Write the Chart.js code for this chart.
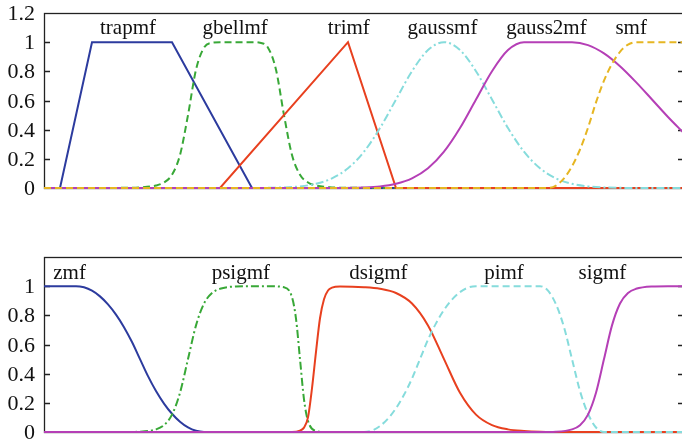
<!DOCTYPE html>
<html>
<head>
<meta charset="utf-8">
<script src="https://cdn.jsdelivr.net/npm/chart.js@4.4.0/dist/chart.umd.min.js"></script>
<style>
  html, body { margin: 0; padding: 0; background: #fff; overflow: hidden; }
  canvas { position: absolute; left: 0; }
  #topChart { top: 0; }
  #bottomChart { top: 240px; }
</style>
</head>
<body>
<canvas id="topChart" width="690" height="200"></canvas>
<canvas id="bottomChart" width="690" height="204"></canvas>
<script>
// upper panel: trapmf, gbellmf, trimf, gaussmf, gauss2mf, smf
const trapX = [0, 1, 3, 8, 13, 40];
const trapY = [0, 0, 1, 1, 0, 0];

const gbellX = [0, 5, 6, 7, 7.5, 8, 8.5, 9, 9.5, 10, 10.5, 11, 12, 13, 13.5, 14, 14.5, 15, 15.5, 16, 16.5, 17, 18, 19, 40];
const gbellY = [0, 0.001, 0.004, 0.017, 0.038, 0.091, 0.226, 0.5, 0.811, 0.962, 0.996, 1, 1, 1, 0.996, 0.962, 0.811, 0.5, 0.226, 0.091, 0.038, 0.017, 0.004, 0.001, 0];

const trimX = [0, 11, 19, 22, 40];
const trimY = [0, 0, 1, 0, 0];

const gaussX = [0, 13, 15, 16, 17, 18, 19, 20, 21, 22, 23, 24, 25, 26, 27, 28, 29, 30, 31, 32, 33, 34, 35, 37, 40];
const gaussY = [0, 0.0003, 0.004, 0.011, 0.029, 0.066, 0.135, 0.249, 0.411, 0.607, 0.801, 0.946, 1, 0.946, 0.801, 0.607, 0.411, 0.249, 0.135, 0.066, 0.029, 0.011, 0.004, 0.0003, 0];

const gauss2X = [0, 16, 18, 20, 21, 22, 23, 24, 25, 26, 27, 28, 29, 30, 33, 34, 35, 36, 37, 38, 39, 40];
const gauss2Y = [0, 0, 0.0003, 0.004, 0.011, 0.029, 0.066, 0.135, 0.249, 0.411, 0.607, 0.801, 0.946, 1, 1, 0.98, 0.923, 0.835, 0.726, 0.607, 0.487, 0.375];

const smfX = [0, 31.5, 32, 32.5, 33, 33.5, 34, 34.5, 35, 35.5, 36, 36.5, 37, 40];
const smfY = [0, 0, 0.017, 0.066, 0.149, 0.264, 0.413, 0.587, 0.736, 0.851, 0.934, 0.983, 1, 1];

// lower panel: zmf, psigmf, dsigmf, pimf, sigmf
const zmfX = [0, 2, 2.5, 3, 3.5, 4, 4.5, 5, 5.5, 6, 6.5, 7, 7.5, 8, 8.5, 9, 9.5, 10, 40];
const zmfY = [1, 1, 0.992, 0.969, 0.93, 0.875, 0.805, 0.719, 0.617, 0.5, 0.383, 0.281, 0.195, 0.125, 0.07, 0.031, 0.008, 0, 0];

const psigX = [0, 5, 6, 7, 7.5, 8, 8.5, 9, 9.5, 10, 10.5, 11, 12, 13, 14, 15, 15.5, 15.75, 16, 16.25, 16.5, 17, 17.5, 40];
const psigY = [0, 0, 0.002, 0.018, 0.047, 0.119, 0.269, 0.5, 0.731, 0.881, 0.953, 0.982, 0.998, 1, 1, 0.993, 0.924, 0.777, 0.5, 0.223, 0.076, 0.007, 0, 0];

const dsigX = [0, 15.5, 16, 16.25, 16.5, 16.75, 17, 17.25, 17.5, 17.75, 18, 18.5, 20, 21, 22, 23, 24, 25, 26, 27, 28, 29, 30, 31, 33, 40];
const dsigY = [0, 0, 0.01, 0.03, 0.1, 0.3, 0.55, 0.78, 0.91, 0.97, 0.99, 0.998, 0.993, 0.982, 0.953, 0.881, 0.731, 0.5, 0.269, 0.119, 0.047, 0.018, 0.007, 0.002, 0, 0];

const pimfX = [0, 20, 20.5, 21, 21.5, 22, 22.5, 23, 23.5, 24, 24.5, 25, 25.5, 26, 26.5, 27, 31, 31.5, 32, 32.5, 33, 33.5, 34, 34.5, 35, 40];
const pimfY = [0, 0, 0.01, 0.041, 0.092, 0.163, 0.255, 0.367, 0.5, 0.633, 0.745, 0.837, 0.908, 0.959, 0.99, 1, 1, 0.969, 0.875, 0.719, 0.5, 0.281, 0.125, 0.031, 0, 0];

const sigX = [0, 31, 32, 33, 33.5, 34, 34.5, 35, 35.5, 36, 36.5, 37, 38, 39, 40];
const sigY = [0, 0, 0.002, 0.018, 0.047, 0.119, 0.269, 0.5, 0.731, 0.881, 0.953, 0.982, 0.998, 1, 1];

// curve names and where their captions sit
const topNames = ['trapmf', 'gbellmf', 'trimf', 'gaussmf', 'gauss2mf', 'smf'];
const topLabelX = [5.25, 11.95, 19.05, 24.9, 31.4, 36.7];
const bottomNames = ['zmf', 'psigmf', 'dsigmf', 'pimf', 'sigmf'];
const bottomLabelX = [1.6, 12.3, 20.9, 28.75, 34.9];

const yTicks = [0, 0.2, 0.4, 0.6, 0.8, 1, 1.2];
const yTickText = ['0', '0.2', '0.4', '0.6', '0.8', '1', '1.2'];

const BLUE = '#2c3b9e';
const GREEN = '#38a837';
const RED = '#e8401f';
const CYAN = '#86dcdc';
const MAGENTA = '#b53fb6';
const YELLOW = '#e6b623';

const SERIF = '"Liberation Serif", "Times New Roman", serif';

function toPoints(xs, ys) {
    return xs.map((x, i) => ({ x: x, y: ys[i] }));
}

// box around the plot, small inward ticks on both sides and the tick labels
const framePlugin = {
    id: 'frame',
    beforeDatasetsDraw(chart, args, opts) {
        const ctx = chart.ctx;
        const a = chart.chartArea;
        const y = chart.scales.y;
        ctx.save();
        ctx.strokeStyle = '#222';
        ctx.lineWidth = 1.3;
        ctx.strokeRect(a.left + 0.5, a.top + 0.5, a.right - a.left, a.bottom - a.top);

        ctx.font = '22px ' + SERIF;
        ctx.fillStyle = '#111';
        ctx.textAlign = 'right';
        ctx.textBaseline = 'middle';
        yTicks.forEach((v, i) => {
            const py = Math.round(y.getPixelForValue(v)) + 0.5;
            if (!(opts.hideTop && v > 1.1)) {
                ctx.fillText(yTickText[i], a.left - 9, py + 1);
            }
            if (v <= 0 || v > 1.1) return;
            ctx.beginPath();
            ctx.moveTo(a.left, py);
            ctx.lineTo(a.left + 6, py);
            ctx.moveTo(a.right - 6, py);
            ctx.lineTo(a.right, py);
            ctx.stroke();
        });
        ctx.restore();
    }
};

// curve captions
const captionPlugin = {
    id: 'captions',
    afterDatasetsDraw(chart, args, opts) {
        const ctx = chart.ctx;
        ctx.save();
        ctx.font = '21px ' + SERIF;
        ctx.fillStyle = '#111';
        ctx.textAlign = 'center';
        ctx.textBaseline = 'alphabetic';
        opts.names.forEach((name, i) => {
            const px = chart.scales.x.getPixelForValue(opts.xs[i]);
            const py = chart.scales.y.getPixelForValue(opts.y);
            ctx.fillText(name, px, py);
        });
        ctx.restore();
    }
};

function makeDataset(xs, ys, color, dash, smooth, idx) {
    return {
        data: toPoints(xs, ys),
        borderColor: color,
        borderWidth: 2,
        borderDash: dash,
        pointRadius: 0,
        fill: false,
        cubicInterpolationMode: smooth ? 'monotone' : 'default',
        tension: 0,
        clip: 6,
        order: -idx
    };
}

function makeChart(id, datasets, pad, names, labelX, labelY, hideTop) {
    const ctx = document.getElementById(id).getContext('2d');
    return new Chart(ctx, {
        type: 'line',
        data: { datasets: datasets },
        options: {
            responsive: false,
            animation: false,
            devicePixelRatio: 1,
            layout: { padding: pad },
            plugins: {
                legend: { display: false },
                tooltip: { enabled: false },
                frame: { hideTop: hideTop },
                captions: { names: names, xs: labelX, y: labelY }
            },
            scales: {
                x: {
                    type: 'linear',
                    min: 0,
                    max: 40,
                    display: false
                },
                y: {
                    min: 0,
                    max: 1.2,
                    afterFit: function(scale) { scale.width = 44; },
                    grid: { display: false, drawTicks: false },
                    border: { display: false },
                    ticks: { display: false }
                }
            }
        },
        plugins: [framePlugin, captionPlugin]
    });
}

document.addEventListener('DOMContentLoaded', function() {
    const dash = [7, 4];
    const dashDot = [8, 3, 2, 3];

    makeChart('topChart', [
        makeDataset(trapX, trapY, BLUE, [], false, 0),
        makeDataset(gbellX, gbellY, GREEN, dash, true, 1),
        makeDataset(trimX, trimY, RED, [], false, 2),
        makeDataset(gaussX, gaussY, CYAN, dashDot, true, 3),
        makeDataset(gauss2X, gauss2Y, MAGENTA, [], true, 4),
        makeDataset(smfX, smfY, YELLOW, dash, true, 5)
    ], { top: 13, right: 6, bottom: 12, left: 0 }, topNames, topLabelX, 1.055, false);

    makeChart('bottomChart', [
        makeDataset(zmfX, zmfY, BLUE, [], true, 0),
        makeDataset(psigX, psigY, GREEN, dashDot, true, 1),
        makeDataset(dsigX, dsigY, RED, [], true, 2),
        makeDataset(pimfX, pimfY, CYAN, dash, true, 3),
        makeDataset(sigX, sigY, MAGENTA, [], true, 4)
    ], { top: 17, right: 6, bottom: 12, left: 0 }, bottomNames, bottomLabelX, 1.05, true);
});
</script>
</body>
</html>
